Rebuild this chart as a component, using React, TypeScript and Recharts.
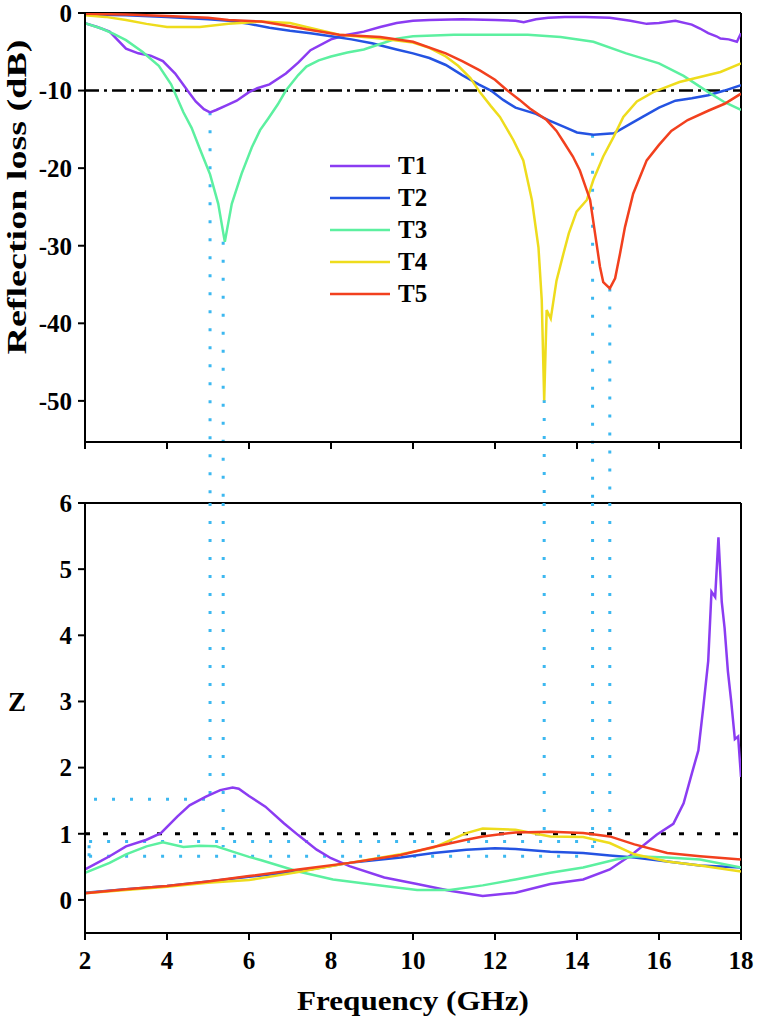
import React from "react";
import { LineChart, Line, XAxis, YAxis, ReferenceLine, Legend } from "recharts";

const FONT = "'Liberation Serif', 'Times New Roman', serif";

const seriesNames = ["T1", "T2", "T3", "T4", "T5"];
const seriesColors = ["#8b3cf2", "#2453e2", "#5cf0a0", "#eedc1c", "#f2401e"];
const guideColor = "#3cb8f0";

const freqTicks = [2, 4, 6, 8, 10, 12, 14, 16, 18];
const rlTicks = [0, -10, -20, -30, -40, -50];
const zTicks = [0, 1, 2, 3, 4, 5, 6];

// reflection loss (dB)
const t1RlFreq = [2, 2.3, 2.6, 3, 3.3, 3.6, 3.9, 4.2, 4.5, 4.7, 4.9, 5.05, 5.2, 5.45, 5.7, 6, 6.2, 6.5, 6.9, 7.2, 7.5, 8, 8.4, 8.8, 9.2, 9.6, 10, 10.4, 11.2, 12, 12.5, 12.7, 13, 13.3, 13.7, 14.2, 14.8, 15.3, 15.7, 16, 16.4, 16.8, 17, 17.2, 17.4, 17.5, 17.7, 17.9, 18];
const t1RlVals = [-1.3, -1.8, -2.4, -4.6, -5.2, -5.5, -6.2, -7.8, -10, -11.4, -12.4, -12.8, -12.5, -11.9, -11.3, -10.2, -9.7, -9.2, -7.8, -6.4, -4.8, -3.4, -2.8, -2.4, -1.8, -1.3, -1, -0.9, -0.8, -0.9, -1, -1.2, -0.8, -0.6, -0.5, -0.5, -0.6, -1, -1.4, -1.3, -1, -1.5, -2, -2.6, -3, -3.3, -3.4, -3.7, -2.6];

const t2RlFreq = [2, 3, 4, 5, 5.5, 6, 6.5, 7, 7.5, 8, 8.5, 9, 9.6, 10, 10.4, 10.8, 11.2, 11.6, 11.9, 12.2, 12.5, 13, 13.3, 13.7, 14, 14.4, 14.9, 15.3, 15.6, 16, 16.4, 16.8, 17.2, 17.6, 18];
const t2RlVals = [-0.2, -0.3, -0.5, -0.8, -1, -1.4, -1.9, -2.3, -2.6, -3, -3.4, -3.9, -4.7, -5.2, -5.8, -6.7, -8, -9.2, -10, -11.2, -12.2, -13, -13.8, -14.7, -15.4, -15.7, -15.5, -14.3, -13.4, -12.2, -11.3, -11, -10.6, -10, -9.3];

const t3RlFreq = [2, 2.4, 2.7, 3, 3.4, 3.8, 4.1, 4.4, 4.6, 4.8, 5.05, 5.25, 5.41, 5.58, 5.82, 6.07, 6.27, 6.47, 6.7, 6.9, 7.2, 7.4, 7.7, 8, 8.4, 8.8, 9.2, 9.6, 10, 11, 12, 12.8, 13.6, 14.4, 15.2, 16, 16.6, 17.2, 17.6, 18];
const t3RlVals = [-1.3, -2, -2.7, -3.5, -5, -6.8, -9.2, -12.8, -14.8, -17.5, -20.8, -24.6, -29.5, -24.6, -20.7, -17.3, -15.1, -13.6, -11.8, -10, -8, -6.9, -6.1, -5.6, -5.1, -4.7, -4, -3.3, -3, -2.8, -2.8, -2.8, -3.1, -3.7, -5.2, -6.5, -8.1, -10.2, -11.5, -12.5];

const t4RlFreq = [2, 2.5, 3, 3.5, 4, 4.8, 5.5, 6.3, 7, 7.4, 8.2, 9.2, 10, 10.4, 10.8, 11.1, 11.4, 11.63, 11.9, 12.12, 12.45, 12.69, 12.9, 13.06, 13.14, 13.2, 13.26, 13.36, 13.5, 13.67, 13.8, 13.99, 14.24, 14.4, 14.64, 14.89, 15.13, 15.46, 15.86, 16, 16.5, 16.8, 17.5, 18];
const t4RlVals = [-0.3, -0.5, -0.9, -1.4, -1.8, -1.8, -1.4, -1.1, -1.3, -1.8, -2.8, -3.3, -3.8, -4.5, -5.6, -6.8, -8.4, -10.2, -12, -13.4, -16.4, -19, -24.1, -30.2, -37, -49.9, -38.3, -39.4, -34.5, -31, -28.4, -25.6, -24.1, -21.5, -18.5, -16, -13.4, -11.4, -10.2, -9.9, -8.9, -8.5, -7.6, -6.5];

const t5RlFreq = [2, 3, 4, 5, 5.5, 6.3, 7, 7.4, 8.2, 9.2, 10, 10.8, 11.2, 11.63, 12, 12.28, 12.6, 12.85, 13.26, 13.5, 13.67, 13.9, 14.07, 14.32, 14.44, 14.56, 14.64, 14.8, 14.93, 15.05, 15.17, 15.37, 15.7, 16, 16.3, 16.7, 17.2, 17.6, 18];
const t5RlVals = [-0.1, -0.2, -0.4, -0.6, -0.9, -1.1, -1.7, -2.1, -2.8, -3.1, -3.7, -5.2, -6.2, -7.4, -8.6, -9.9, -11.2, -12.3, -13.8, -15.2, -16.6, -18.5, -20.3, -24.1, -28.4, -32.7, -34.7, -35.5, -34.2, -31, -27.6, -23.3, -19, -17, -15.2, -13.8, -12.6, -11.7, -10.4];

// impedance matching Z
const t1ZFreq = [2, 2.3, 2.6, 3, 3.5, 3.85, 4.25, 4.55, 4.95, 5.3, 5.6, 5.75, 6, 6.4, 6.85, 7.2, 7.65, 8, 8.45, 9.3, 10.1, 10.9, 11.7, 12.5, 13.35, 14.15, 14.8, 15.35, 15.95, 16.35, 16.6, 16.8, 16.96, 17.08, 17.2, 17.28, 17.37, 17.45, 17.53, 17.6, 17.68, 17.76, 17.85, 17.93, 18];
const t1ZVals = [0.46, 0.56, 0.66, 0.81, 0.91, 1.01, 1.26, 1.43, 1.56, 1.66, 1.7, 1.68, 1.57, 1.41, 1.16, 0.98, 0.76, 0.63, 0.51, 0.34, 0.24, 0.14, 0.06, 0.11, 0.24, 0.31, 0.46, 0.69, 0.99, 1.15, 1.46, 1.91, 2.26, 2.91, 3.61, 4.66, 4.58, 5.48, 4.51, 4.11, 3.46, 3.01, 2.43, 2.47, 1.86];

const t2ZFreq = [2, 3, 4, 5, 6, 7.2, 8.45, 9.7, 10.5, 11.3, 12, 12.5, 13.35, 14.15, 14.8, 15.4, 16.2, 17, 18];
const t2ZVals = [0.11, 0.16, 0.21, 0.28, 0.35, 0.43, 0.56, 0.64, 0.71, 0.76, 0.78, 0.77, 0.73, 0.71, 0.67, 0.64, 0.58, 0.52, 0.49];

const t3ZFreq = [2, 2.6, 3, 3.5, 3.9, 4.4, 4.8, 5.2, 5.6, 6, 6.3, 7.2, 8.05, 9.3, 10.1, 10.9, 11.7, 12.5, 13.35, 14.15, 14.95, 15.4, 16.2, 17, 18];
const t3ZVals = [0.41, 0.56, 0.69, 0.81, 0.87, 0.8, 0.82, 0.81, 0.73, 0.65, 0.6, 0.43, 0.31, 0.21, 0.15, 0.15, 0.22, 0.31, 0.41, 0.49, 0.61, 0.66, 0.64, 0.61, 0.49];

const t4ZFreq = [2, 3, 4, 5, 6, 7.2, 8.45, 9.7, 10.5, 11.3, 11.7, 12.5, 13.35, 14.15, 14.8, 15.4, 16.2, 17, 18];
const t4ZVals = [0.1, 0.15, 0.2, 0.26, 0.3, 0.42, 0.56, 0.69, 0.79, 1.01, 1.08, 1.06, 0.96, 0.95, 0.86, 0.69, 0.58, 0.52, 0.43];

const t5ZFreq = [2, 3, 4, 5, 6, 7.2, 8.45, 9.7, 10.5, 11.3, 11.7, 12.5, 13.35, 14.15, 14.8, 15.4, 16.2, 17, 18];
const t5ZVals = [0.1, 0.16, 0.21, 0.28, 0.36, 0.46, 0.56, 0.68, 0.8, 0.91, 0.96, 1.02, 1.03, 1.01, 0.96, 0.84, 0.71, 0.66, 0.61];

// dotted guides linking the RL minima to their Z values
const markerFreqs = [5.05, 5.37, 13.2, 14.38, 14.8];
const markerRl = [-12.8, -29.5, -49.9, -15.7, -35.5];
const markerZ = [1.52, 0.8, 1.02, 0.66, 0.885];
const leaderStart = [2.22, null, null, 2.1, 2.1];
const rlGapEnd = -63.5;

const toPoints = (f: number[], v: number[]) => f.map((x, i) => ({ f: x, v: v[i] }));

const rlSeries = [
  toPoints(t1RlFreq, t1RlVals),
  toPoints(t2RlFreq, t2RlVals),
  toPoints(t3RlFreq, t3RlVals),
  toPoints(t4RlFreq, t4RlVals),
  toPoints(t5RlFreq, t5RlVals),
];
const zSeries = [
  toPoints(t1ZFreq, t1ZVals),
  toPoints(t2ZFreq, t2ZVals),
  toPoints(t3ZFreq, t3ZVals),
  toPoints(t4ZFreq, t4ZVals),
  toPoints(t5ZFreq, t5ZVals),
];

const axisStroke = { stroke: "#000", strokeWidth: 2 };
const tickStyle = (size: number) => ({ fill: "#000", fontSize: size, fontWeight: "bold", fontFamily: FONT });

function LegendBox() {
  return (
    <div style={{ fontFamily: FONT, fontWeight: "bold", fontSize: 25, color: "#000" }}>
      {seriesNames.map((n, i) => (
        <div key={n} style={{ display: "flex", alignItems: "center", height: 32 }}>
          <svg width={60} height={10}>
            <line x1={0} y1={5} x2={60} y2={5} stroke={seriesColors[i]} strokeWidth={2.5} />
          </svg>
          <span style={{ marginLeft: 8, lineHeight: "32px" }}>{n}</span>
        </div>
      ))}
    </div>
  );
}

export default function App() {
  return (
    <div style={{ position: "absolute", left: 0, top: 0, width: 757, height: 1025, background: "#fff" }}>
      <div style={{ position: "absolute", left: 0, top: 0 }}>
        <LineChart width={757} height={503} margin={{ top: 13, right: 16, bottom: 51, left: 0 }}>
          <XAxis
            dataKey="f"
            type="number"
            domain={[2, 18]}
            ticks={freqTicks}
            interval={0}
            allowDataOverflow
            tickFormatter={() => ""}
            tickSize={7}
            height={10}
            axisLine={axisStroke}
            tickLine={axisStroke}
          />
          <YAxis
            type="number"
            domain={[-55.3, 0]}
            ticks={rlTicks}
            interval={0}
            allowDataOverflow
            width={85}
            tickSize={7}
            tickMargin={6}
            tick={tickStyle(25)}
            axisLine={axisStroke}
            tickLine={axisStroke}
            label={{
              content: () => (
                <text
                  x={17}
                  y={197}
                  transform="rotate(-90 17 197)"
                  textAnchor="middle"
                  dominantBaseline="central"
                  textLength={315}
                  lengthAdjust="spacingAndGlyphs"
                  style={{ fontFamily: FONT, fontWeight: "bold", fontSize: 27 }}
                >
                  Reflection loss (dB)
                </text>
              ),
            }}
          />
          <ReferenceLine y={0} stroke="#000" strokeWidth={2} />
          <ReferenceLine x={18} stroke="#000" strokeWidth={2} />
          <ReferenceLine y={-10} stroke="#000" strokeWidth={2.5} strokeDasharray="14 5 3 5" />
          {markerFreqs.map((f, i) => (
            <ReferenceLine
              key={`rl-${i}`}
              segment={[{ x: f, y: markerRl[i] }, { x: f, y: rlGapEnd }]}
              ifOverflow="visible"
              stroke={guideColor}
              strokeWidth={3}
              strokeDasharray="3 15"
            />
          ))}
          {rlSeries.map((d, i) => (
            <Line
              key={seriesNames[i]}
              data={d}
              dataKey="v"
              name={seriesNames[i]}
              type="linear"
              stroke={seriesColors[i]}
              strokeWidth={2.5}
              dot={false}
              isAnimationActive={false}
            />
          ))}
          <Legend
            layout="vertical"
            align="center"
            verticalAlign="middle"
            wrapperStyle={{ left: 330, top: 150, width: 140, height: 160 }}
            content={() => <LegendBox />}
          />
        </LineChart>
      </div>

      <div style={{ position: "absolute", left: 0, top: 470 }}>
        <LineChart width={757} height={555} margin={{ top: 33, right: 16, bottom: 4, left: 0 }}>
          <XAxis
            dataKey="f"
            type="number"
            domain={[2, 18]}
            ticks={freqTicks}
            interval={0}
            allowDataOverflow
            tickSize={7}
            tickMargin={11}
            height={88}
            tick={tickStyle(25)}
            axisLine={axisStroke}
            tickLine={axisStroke}
            label={{
              content: () => (
                <text
                  x={413}
                  y={540}
                  textAnchor="middle"
                  textLength={232}
                  lengthAdjust="spacingAndGlyphs"
                  style={{ fontFamily: FONT, fontWeight: "bold", fontSize: 28 }}
                >
                  Frequency (GHz)
                </text>
              ),
            }}
          />
          <YAxis
            type="number"
            domain={[-0.5, 6]}
            ticks={zTicks}
            interval={0}
            allowDataOverflow
            width={85}
            tickSize={7}
            tickMargin={6}
            tick={tickStyle(25)}
            axisLine={axisStroke}
            tickLine={axisStroke}
            label={{
              content: () => (
                <text
                  x={17}
                  y={232}
                  textAnchor="middle"
                  dominantBaseline="central"
                  style={{ fontFamily: FONT, fontWeight: "bold", fontSize: 27 }}
                >
                  Z
                </text>
              ),
            }}
          />
          <ReferenceLine y={6} stroke="#000" strokeWidth={2} />
          <ReferenceLine x={18} stroke="#000" strokeWidth={2} />
          <ReferenceLine y={1} stroke="#000" strokeWidth={3} strokeDasharray="5 13" />
          {markerFreqs.map((f, i) => (
            <ReferenceLine
              key={`zv-${i}`}
              segment={[{ x: f, y: 6 }, { x: f, y: markerZ[i] }]}
              ifOverflow="visible"
              stroke={guideColor}
              strokeWidth={3}
              strokeDasharray="3 15"
            />
          ))}
          {markerFreqs.map((f, i) =>
            leaderStart[i] == null ? null : (
              <ReferenceLine
                key={`zh-${i}`}
                segment={[{ x: leaderStart[i] as number, y: markerZ[i] }, { x: f, y: markerZ[i] }]}
                ifOverflow="visible"
                stroke={guideColor}
                strokeWidth={3}
                strokeDasharray="3 15"
              />
            )
          )}
          <ReferenceLine
            segment={[{ x: 2.1, y: markerZ[3] }, { x: 2.1, y: markerZ[4] }]}
            ifOverflow="visible"
            stroke={guideColor}
            strokeWidth={3}
            strokeDasharray="3 5"
          />
          {zSeries.map((d, i) => (
            <Line
              key={seriesNames[i]}
              data={d}
              dataKey="v"
              name={seriesNames[i]}
              type="linear"
              stroke={seriesColors[i]}
              strokeWidth={2.5}
              dot={false}
              isAnimationActive={false}
            />
          ))}
        </LineChart>
      </div>
    </div>
  );
}
